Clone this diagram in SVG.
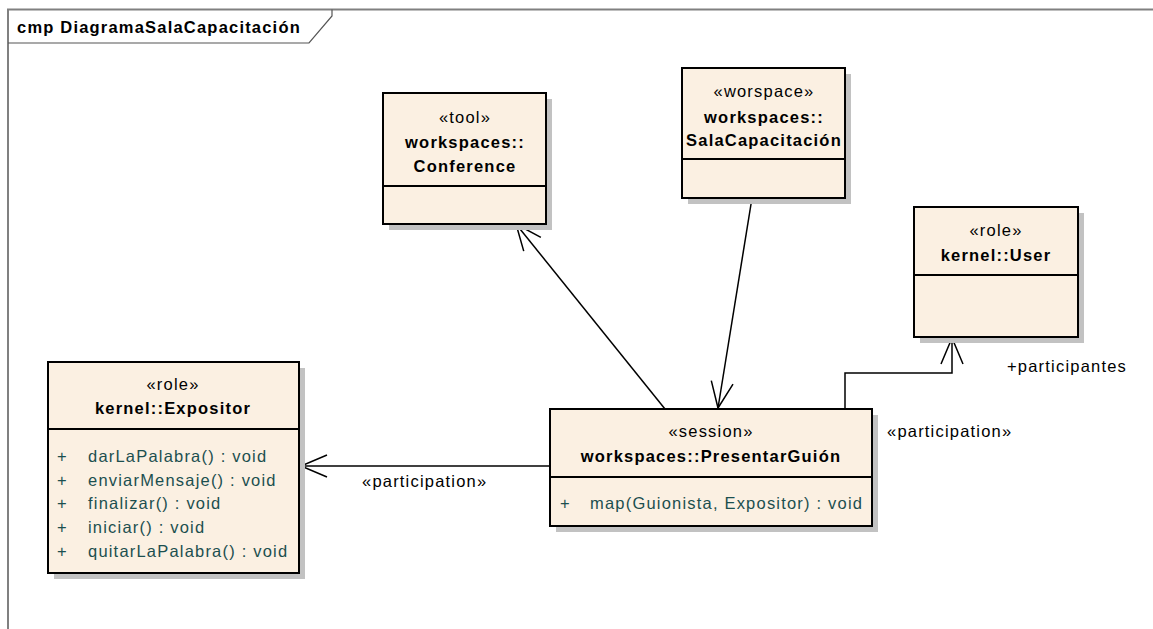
<svg xmlns="http://www.w3.org/2000/svg" width="1153" height="629" viewBox="0 0 1153 629">
  <style>
    text { font-family: "Liberation Sans", Arial, sans-serif; font-size: 16.5px; fill: #000; letter-spacing: 1.2px; }
    .b { font-weight: bold; }
    .m { text-anchor: middle; }
    .op { fill: #1b4f4f; }
    .box { fill: #fbf0e2; stroke: #000; stroke-width: 2; }
    .shadow { fill: #c2c2c2; }
    .div { stroke: #000; stroke-width: 2; }
    .conn { fill: none; stroke: #000; stroke-width: 1.5; }
    .frame { fill: none; stroke: #808080; stroke-width: 2; }
  </style>
  <defs>
    <marker id="open" markerUnits="userSpaceOnUse" markerWidth="40" markerHeight="30" refX="0" refY="0" viewBox="-30 -15 32 30" orient="auto">
      <path d="M-26,-11 L0,0 L-26,11" fill="none" stroke="#000" stroke-width="1.5"/>
    </marker>
  </defs>
  <rect width="1153" height="629" fill="#fff"/>

  <!-- diagram frame and name tab -->
  <g id="frame">
    <path class="frame" d="M8,629 L8,9.5 L1153,9.5"/>
    <path d="M8,43 L309,43 L332,16 L332,9.5" fill="none" stroke="#555" stroke-width="1.2"/>
    <text class="b" x="17" y="33">cmp DiagramaSalaCapacitación</text>
  </g>

  <!-- connectors -->
  <g id="connectors">
    <line class="conn" x1="665" y1="409" x2="516" y2="224" marker-end="url(#open)"/>
    <line class="conn" x1="752" y1="198" x2="718" y2="408" marker-end="url(#open)"/>
    <polyline class="conn" points="845,409 845,373 952,373 952,338" marker-end="url(#open)"/>
    <line class="conn" x1="550" y1="466" x2="301" y2="466" marker-end="url(#open)"/>
    <text x="362" y="487">«participation»</text>
    <text x="887" y="437">«participation»</text>
    <text x="1007" y="372">+participantes</text>
  </g>

  <g id="conference">
    <rect class="shadow" x="389" y="99" width="163" height="131"/>
    <rect class="box" x="383" y="93" width="163" height="131"/>
    <line class="div" x1="383" y1="186" x2="546" y2="186"/>
    <text class="m" x="465" y="123">«tool»</text>
    <text class="m b" x="465" y="148">workspaces::</text>
    <text class="m b" x="465" y="172">Conference</text>
  </g>

  <g id="salaCapacitacion">
    <rect class="shadow" x="688" y="74" width="163" height="130"/>
    <rect class="box" x="682" y="68" width="163" height="130"/>
    <line class="div" x1="682" y1="159" x2="845" y2="159"/>
    <text class="m" x="764" y="97">«worspace»</text>
    <text class="m b" x="764" y="123">workspaces::</text>
    <text class="m b" x="764" y="146">SalaCapacitación</text>
  </g>

  <g id="user">
    <rect class="shadow" x="920" y="213" width="164" height="130"/>
    <rect class="box" x="914" y="207" width="164" height="130"/>
    <line class="div" x1="914" y1="275" x2="1078" y2="275"/>
    <text class="m" x="996" y="236">«role»</text>
    <text class="m b" x="996" y="261">kernel::User</text>
  </g>

  <g id="expositor">
    <rect class="shadow" x="54" y="368" width="251" height="211"/>
    <rect class="box" x="48" y="362" width="251" height="211"/>
    <line class="div" x1="48" y1="429" x2="299" y2="429"/>
    <text class="m" x="173" y="390">«role»</text>
    <text class="m b" x="173" y="414">kernel::Expositor</text>
    <g class="op">
      <text class="op" x="57" y="462">+</text><text class="op" x="88" y="462">darLaPalabra() : void</text>
      <text class="op" x="57" y="486">+</text><text class="op" x="88" y="486">enviarMensaje() : void</text>
      <text class="op" x="57" y="509">+</text><text class="op" x="88" y="509">finalizar() : void</text>
      <text class="op" x="57" y="533">+</text><text class="op" x="88" y="533">iniciar() : void</text>
      <text class="op" x="57" y="557">+</text><text class="op" x="88" y="557">quitarLaPalabra() : void</text>
    </g>
  </g>

  <g id="presentarGuion">
    <rect class="shadow" x="556" y="415" width="322" height="117"/>
    <rect class="box" x="550" y="409" width="322" height="117"/>
    <line class="div" x1="550" y1="477" x2="872" y2="477"/>
    <text class="m" x="711" y="437">«session»</text>
    <text class="m b" x="711" y="462">workspaces::PresentarGuión</text>
    <text class="op" x="560" y="509">+</text><text class="op" x="590" y="509">map(Guionista, Expositor) : void</text>
  </g>
</svg>
